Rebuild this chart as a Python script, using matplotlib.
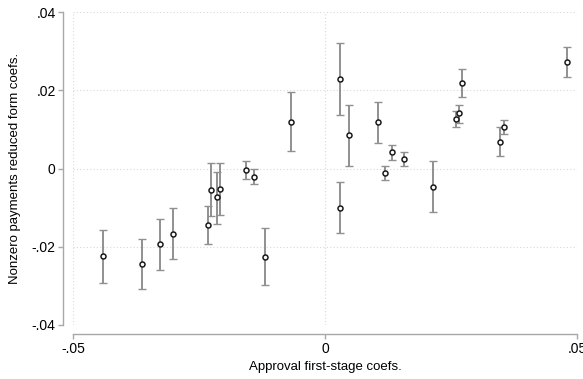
import matplotlib
matplotlib.use('Agg')
import matplotlib.pyplot as plt

plt.rcParams['font.family'] = ['Liberation Sans', 'DejaVu Sans']

# first-stage (x) vs reduced form (y) coefficients, with CI bounds
approval_coef = [-0.0442, -0.0363, -0.0327, -0.0302, -0.0232, -0.0227, -0.0215,
                 -0.0208, -0.0157, -0.0141, -0.0119, -0.0069, 0.0030, 0.0030,
                 0.0047, 0.0104, 0.0118, 0.0132, 0.0157, 0.0214, 0.0260, 0.0265,
                 0.0272, 0.0346, 0.0355, 0.0480]
payments_coef = [-0.0224, -0.0244, -0.0194, -0.0167, -0.0144, -0.0054, -0.0074,
                 -0.0052, -0.0005, -0.0021, -0.0225, 0.0120, 0.0228, -0.0100,
                 0.0085, 0.0118, -0.0012, 0.0041, 0.0025, -0.0047, 0.0127, 0.0141,
                 0.0218, 0.0068, 0.0106, 0.0272]
ci_low = [-0.0293, -0.0309, -0.0259, -0.0232, -0.0193, -0.0121, -0.0141,
          -0.0118, -0.0027, -0.0039, -0.0299, 0.0045, 0.0136, -0.0165,
          0.0006, 0.0065, -0.0029, 0.0022, 0.0007, -0.0112, 0.0107, 0.0117,
          0.0182, 0.0033, 0.0088, 0.0233]
ci_high = [-0.0157, -0.0179, -0.0129, -0.0101, -0.0095, 0.0014, -0.0010,
           0.0014, 0.0018, -0.0002, -0.0151, 0.0195, 0.0320, -0.0035,
           0.0163, 0.0171, 0.0006, 0.0060, 0.0043, 0.0018, 0.0146, 0.0163,
           0.0254, 0.0105, 0.0125, 0.0311]

x_ticks = [-0.05, 0, 0.05]
x_tick_labels = ['-.05', '0', '.05']
y_ticks = [-0.04, -0.02, 0, 0.02, 0.04]
y_tick_labels = ['-.04', '-.02', '0', '.02', '.04']

fig = plt.figure(figsize=(5.83, 3.79), dpi=100)
ax = fig.add_axes([73.3 / 583, 1 - 325 / 379, (577.3 - 73.3) / 583, (325 - 12) / 379])

yerr = [[p - lo for p, lo in zip(payments_coef, ci_low)],
        [hi - p for p, hi in zip(payments_coef, ci_high)]]
ax.errorbar(approval_coef, payments_coef, yerr=yerr, fmt='none', ecolor='#909090',
            elinewidth=1.4, capsize=2.6, capthick=1.0, zorder=2)
ax.plot(approval_coef, payments_coef, 'o', markersize=3.6, markerfacecolor='white',
        markeredgecolor='#1a1a1a', markeredgewidth=1.1, linestyle='none', zorder=3)

ax.set_xlim(-0.05, 0.05)
ax.set_ylim(-0.04, 0.04)
ax.set_xticks(x_ticks)
ax.set_xticklabels(x_tick_labels, fontsize=8)
ax.set_yticks(y_ticks)
ax.set_yticklabels(y_tick_labels, fontsize=8, rotation=90, va='center')

ax.grid(True, linestyle=(0, (1, 2)), color='#d8d8d8', linewidth=0.8)
ax.set_axisbelow(True)

for s in ['top', 'right']:
    ax.spines[s].set_visible(False)
ax.spines['left'].set_position(('outward', 7.2))
ax.spines['bottom'].set_position(('outward', 6.5))
for s in ['left', 'bottom']:
    ax.spines[s].set_color('#a8a8a8')
    ax.spines[s].set_linewidth(1.0)
ax.tick_params(color='#a8a8a8', length=3.5, width=1.0, pad=2)

ax.set_xlabel('Approval first-stage coefs.', fontsize=9.5, labelpad=4)
ax.set_ylabel('Nonzero payments reduced form coefs.', fontsize=9.5, labelpad=8)

fig.savefig('out.png', dpi=100)
